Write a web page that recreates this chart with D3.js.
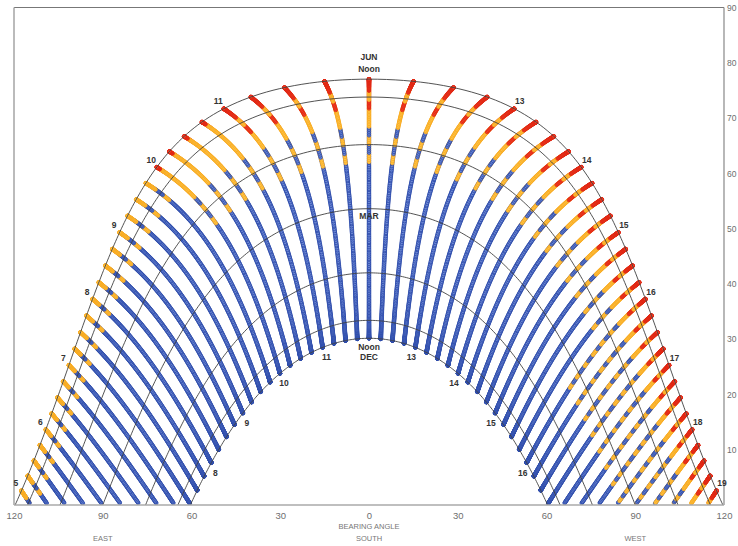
<!DOCTYPE html>
<html>
<head>
<meta charset="utf-8">
<script src="https://cdn.jsdelivr.net/npm/d3@7"></script>
<style>
  body { margin: 0; background: #fff; }
  svg { display: block; font-family: "Liberation Sans", Arial, sans-serif; }
</style>
</head>
<body>
<svg id="chart" width="738" height="546"></svg>
<script>
// site and sun-path arcs (21st of each month)
var latitude = 36.4;
var arcDeclinations = [23.44, 20.2, 11.6, 0, -11.6, -20.2, -23.44];

// time of day, every 15 minutes
var hours = [5, 6, 7, 8, 9, 10, 11, 12, 13, 14, 15, 16, 17, 18, 19];
var minuteSteps = [0, 15, 30, 45];
var junLabelHours = [5, 6, 7, 8, 9, 10, 11, 13, 14, 15, 16, 17, 18, 19];
var decLabelHours = [8, 9, 10, 11, 13, 14, 15, 16];

// monthly mean dry-bulb temperature (C) for hours 5..19
var tempJan = [3, 3, 3, 4, 6, 8, 10, 11, 12, 12, 12, 11, 10, 8, 6];
var tempFeb = [4, 4, 4, 6, 8, 10, 12, 13, 14, 14, 14, 13, 12, 10, 8];
var tempMar = [6, 6, 6, 8, 10, 12, 14, 15, 16, 16, 16, 16, 15, 13, 11];
var tempApr = [8, 8, 9, 11, 13, 15, 16, 17, 18, 18, 18, 18, 17, 15, 13];
var tempMay = [12, 12, 14, 16, 18, 20, 21, 22, 22, 23, 23, 23, 22, 21, 20];
var tempJun = [20, 21, 22, 23, 24, 26, 27, 28, 29, 30, 30, 30, 29, 28, 27];
var tempJul = [21, 21, 22, 23, 24, 25, 26, 27, 28, 29, 30, 30, 29, 28, 27];
var tempAug = [17, 17, 18, 18, 19, 20, 21, 21, 22, 23, 23, 23, 23, 22, 21];
var tempSep = [14, 14, 15, 16, 17, 17, 18, 18, 18, 19, 19, 20, 21, 20, 18];
var tempOct = [10, 10, 11, 12, 13, 15, 16, 17, 17, 18, 18, 17, 16, 14, 12];
var tempNov = [6, 6, 6, 7, 9, 11, 13, 14, 14, 14, 14, 13, 12, 10, 8];
var tempDec = [3, 3, 3, 4, 6, 8, 10, 11, 11, 11, 11, 10, 9, 7, 5];
var tempBreaks = [20, 26];

// axes
var bearingTicks = [-120, -90, -60, -30, 0, 30, 60, 90, 120];
var altitudeTicks = [10, 20, 30, 40, 50, 60, 70, 80, 90];

(function() {
  var hourlyTemp = [tempJan, tempFeb, tempMar, tempApr, tempMay, tempJun,
                    tempJul, tempAug, tempSep, tempOct, tempNov, tempDec];

  var plotLeft = 14, plotRight = 724, plotTop = 7.5, plotBottom = 505;
  var svg = d3.select('#chart');

  var x = d3.scaleLinear().domain([-120, 120]).range([plotLeft, plotRight]);
  var y = d3.scaleLinear().domain([0, 90]).range([plotBottom, plotTop]);
  var fill = d3.scaleThreshold().domain(tempBreaks).range(['#6d88d4', '#ffc649', '#f4472c']);
  var stroke = d3.scaleThreshold().domain(tempBreaks).range(['#2b49a8', '#f7a922', '#de2613']);

  var rad = Math.PI / 180;
  function sunPos(decl, ha) {
    var p = latitude * rad, d = decl * rad, h = ha * rad;
    var sa = Math.sin(p) * Math.sin(d) + Math.cos(p) * Math.cos(d) * Math.cos(h);
    var az = Math.atan2(Math.sin(h), Math.cos(h) * Math.sin(p) - Math.tan(d) * Math.cos(p));
    return { alt: Math.asin(sa) / rad, az: az / rad };
  }
  function declination(n) {
    return 23.44 * Math.sin(2 * Math.PI * (284 + n) / 365);
  }

  svg.append('clipPath').attr('id', 'plot')
    .append('rect').attr('x', plotLeft).attr('y', plotTop)
    .attr('width', plotRight - plotLeft).attr('height', plotBottom - plotTop);

  // one dot per day for each 15-minute time line
  var dots = [];
  d3.range(1, 366).forEach(function(n) {
    var decl = declination(n);
    var month = new Date(2001, 0, n).getMonth();
    var half = n > 172 && n < 355 ? 1 : 0;
    var bin = Math.floor((decl + 30) / 1.6);
    hours.forEach(function(h, hi) {
      minuteSteps.forEach(function(m) {
        var pos = sunPos(decl, (h + m / 60 - 12) * 15);
        if (pos.alt > 0.3 && Math.abs(pos.az) <= 121) {
          dots.push({ key: bin * 2 + (half + bin) % 2, decl: decl,
                      az: pos.az, alt: pos.alt, t: hourlyTemp[month][hi] });
        }
      });
    });
  });
  // spring and autumn days share a line: alternate which one is on top in short runs
  dots.sort(function(a, b) { return a.key - b.key || a.decl - b.decl; });

  svg.append('g').attr('clip-path', 'url(#plot)')
    .selectAll('circle').data(dots).enter().append('circle')
    .attr('cx', function(d) { return x(d.az); })
    .attr('cy', function(d) { return y(d.alt); })
    .attr('r', 1.8)
    .attr('fill', function(d) { return fill(d.t); })
    .attr('stroke', function(d) { return stroke(d.t); })
    .attr('stroke-width', 0.8);

  // day arcs
  var line = d3.line()
    .x(function(d) { return x(d.az); })
    .y(function(d) { return y(d.alt); });
  svg.append('g').attr('clip-path', 'url(#plot)')
    .selectAll('path').data(arcDeclinations).enter().append('path')
    .attr('fill', 'none').attr('stroke', '#404040').attr('stroke-width', 0.9)
    .attr('d', function(decl) {
      var h0 = Math.acos(-Math.tan(latitude * rad) * Math.tan(decl * rad)) / rad;
      var pts = d3.range(0, 301).map(function(i) {
        var p = sunPos(decl, -h0 + 2 * h0 * i / 300);
        p.alt = Math.max(0, p.alt);
        return p;
      });
      return line(pts);
    });

  // frame
  var frame = svg.append('g').attr('fill', 'none');
  frame.append('line').attr('x1', plotLeft).attr('x2', plotRight).attr('y1', plotTop).attr('y2', plotTop)
    .attr('stroke', '#777').attr('stroke-width', 1.2);
  frame.append('line').attr('x1', plotLeft).attr('x2', plotLeft).attr('y1', plotTop).attr('y2', plotBottom)
    .attr('stroke', '#aaa').attr('stroke-width', 1.6);
  frame.append('line').attr('x1', plotRight).attr('x2', plotRight).attr('y1', plotTop).attr('y2', plotBottom)
    .attr('stroke', '#888').attr('stroke-width', 1.2);
  frame.append('line').attr('x1', plotLeft).attr('x2', plotRight).attr('y1', plotBottom).attr('y2', plotBottom)
    .attr('stroke', '#aaa').attr('stroke-width', 1.4);

  // axes labels
  var xAxis = d3.axisBottom(x).tickValues(bearingTicks).tickSize(0).tickPadding(7)
    .tickFormat(function(d) { return Math.abs(d); });
  var gx = svg.append('g').attr('transform', 'translate(0,' + plotBottom + ')').call(xAxis);
  gx.select('.domain').remove();
  gx.selectAll('text').attr('fill', '#6e6e6e').attr('font-size', 9.5)
    .attr('font-family', '"Liberation Sans", Arial, sans-serif');

  var yAxis = d3.axisRight(y).tickValues(altitudeTicks).tickSize(0).tickPadding(3);
  var gy = svg.append('g').attr('transform', 'translate(' + plotRight + ',0)').call(yAxis);
  gy.select('.domain').remove();
  gy.selectAll('text').attr('fill', '#6e6e6e').attr('font-size', 8.5)
    .attr('font-family', '"Liberation Sans", Arial, sans-serif');

  var small = svg.append('g').attr('fill', '#777').attr('font-size', 7.5)
    .attr('text-anchor', 'middle');
  small.append('text').attr('x', x(0)).attr('y', 529).text('BEARING ANGLE');
  small.append('text').attr('x', x(0)).attr('y', 541).text('SOUTH');
  small.append('text').attr('x', x(-90)).attr('y', 541).text('EAST');
  small.append('text').attr('x', x(90)).attr('y', 541).text('WEST');

  // hour and month labels
  var labels = svg.append('g').attr('fill', '#333').attr('font-size', 8.5)
    .attr('font-weight', 'bold').attr('text-anchor', 'middle');
  labels.selectAll('.jun').data(junLabelHours).enter().append('text')
    .attr('x', function(h) { return x(sunPos(23.44, (h - 12) * 15).az) + (h < 12 ? -5.5 : 5.5); })
    .attr('y', function(h) { return y(sunPos(23.44, (h - 12) * 15).alt) - 4.5; })
    .text(function(h) { return h; });
  labels.selectAll('.dec').data(decLabelHours).enter().append('text')
    .attr('x', function(h) { return x(sunPos(-23.44, (h - 12) * 15).az) + (h < 12 ? 4 : -4); })
    .attr('y', function(h) { return y(sunPos(-23.44, (h - 12) * 15).alt) + 13; })
    .text(function(h) { return h; });

  var junNoon = y(sunPos(23.44, 0).alt);
  var marNoon = y(sunPos(0, 0).alt);
  var decNoon = y(sunPos(-23.44, 0).alt);
  labels.append('text').attr('x', x(0)).attr('y', junNoon - 19).text('JUN');
  labels.append('text').attr('x', x(0)).attr('y', junNoon - 7).text('Noon');
  labels.append('text').attr('x', x(0)).attr('y', marNoon + 10).text('MAR');
  labels.append('text').attr('x', x(0)).attr('y', decNoon + 12).text('Noon');
  labels.append('text').attr('x', x(0)).attr('y', decNoon + 22).text('DEC');
})();
</script>
</body>
</html>
